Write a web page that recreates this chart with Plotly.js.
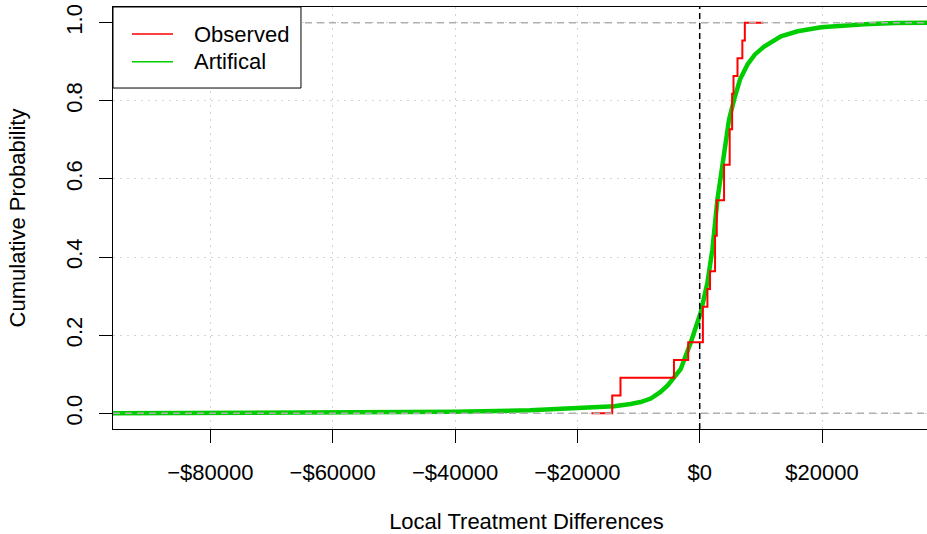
<!DOCTYPE html>
<html>
<head>
<meta charset="utf-8">
<script src="https://cdn.plot.ly/plotly-3.0.1.min.js"></script>
<style>
html, body { margin: 0; padding: 0; background: #fff; overflow: hidden; width: 927px; height: 534px; }
#chart { width: 940px; height: 534px; }
</style>
</head>
<body>
<div id="chart"></div>
<script>
// ---- data ----
const xTickVals = [-80000, -60000, -40000, -20000, 0, 20000];
const xTickText = ['\u2212$80000', '\u2212$60000', '\u2212$40000', '\u2212$20000', '$0', '$20000'];
const yTickVals = [0, 0.2, 0.4, 0.6, 0.8, 1.0];
const yTickText = ['0.0', '0.2', '0.4', '0.6', '0.8', '1.0'];

// observed local treatment differences (22 observations)
const observed = [-14300, -12950, -4210, -1880, 520, 520, 1260, 1690, 2510, 2510,
                  2790, 2790, 3980, 3980, 4900, 4900, 5300, 5300, 5525, 6180, 6970, 7380];
// extent over which the observed ECDF is drawn
const observedFrom = -17700;
const observedTo = 10400;

// artificial (simulated) cumulative distribution
const artX = [-96000, -60000, -40000, -27700, -19500, -14000, -11300, -9670, -8000, -6400,
              -5200, -4262, -3115, -1475, 164, 1260, 2080, 2900, 3990, 4800,
              5620, 6600, 7820, 9000, 10540, 13280, 16020, 19840, 26940, 32000, 39300];
const artY = [0.000, 0.001, 0.004, 0.008, 0.013, 0.018, 0.024, 0.029, 0.038, 0.055,
              0.072, 0.090, 0.113, 0.181, 0.258, 0.334, 0.420, 0.547, 0.675, 0.752,
              0.803, 0.855, 0.893, 0.918, 0.939, 0.965, 0.978, 0.988, 0.996, 0.999, 1.000];

const seriesNames = ['Observed', 'Artifical'];
const seriesColors = ['#FF0000', '#00CD00'];

// ---- empirical CDF of the observed values ----
const sorted = observed.slice().sort((a, b) => a - b);
const knots = [...new Set(sorted)];
const n = sorted.length;
const obsX = [observedFrom];
const obsY = [0];
knots.forEach(k => {
  obsX.push(k);
  obsY.push(sorted.filter(v => v <= k).length / n);
});
obsX.push(observedTo);
obsY.push(1);

const FONT = 'Liberation Sans, Arial, Helvetica, sans-serif';
const FS = 22;

const traces = [
  { x: artX, y: artY, type: 'scatter', mode: 'lines', name: seriesNames[1],
    line: { color: seriesColors[1], width: 4.5 } },
  { x: obsX, y: obsY, type: 'scatter', mode: 'lines', name: seriesNames[0],
    line: { color: seriesColors[0], width: 2, shape: 'hv' } }
];

// legend box geometry in paper units
const legX1 = 0.2273, legY0 = 0.808;
const rowY = [0.936, 0.870];

const shapes = [
  { type: 'line', xref: 'paper', x0: 0, x1: 1, yref: 'y', y0: 0, y1: 0,
    line: { color: '#AFAFAF', width: 1.5, dash: '7px,5px' }, layer: 'above' },
  { type: 'line', xref: 'paper', x0: 0, x1: 1, yref: 'y', y0: 1, y1: 1,
    line: { color: '#AFAFAF', width: 1.5, dash: '7px,5px' }, layer: 'above' },
  { type: 'line', xref: 'x', x0: 0, x1: 0, yref: 'paper', y0: 0, y1: 1,
    line: { color: '#000000', width: 1.5, dash: '6px,4px' }, layer: 'above' },
  { type: 'rect', xref: 'paper', yref: 'paper', x0: 0, x1: legX1, y0: legY0, y1: 1,
    fillcolor: '#FFFFFF', line: { color: '#000000', width: 1 }, layer: 'above' }
];
seriesNames.forEach((nm, i) => {
  shapes.push({ type: 'line', xref: 'paper', yref: 'paper', x0: 0.023, x1: 0.0726,
    y0: rowY[i], y1: rowY[i], line: { color: seriesColors[i], width: 1.5 }, layer: 'above' });
});
const annotations = seriesNames.map((nm, i) => ({
  xref: 'paper', yref: 'paper', x: 0.0955, y: rowY[i], xanchor: 'left', yanchor: 'middle',
  text: nm, showarrow: false, font: { family: FONT, size: FS, color: '#000' }
}));

const layout = {
  width: 940, height: 534,
  margin: { l: 113, r: 0, t: 7, b: 105, pad: 0 },
  paper_bgcolor: '#FFFFFF', plot_bgcolor: '#FFFFFF',
  showlegend: false,
  font: { family: FONT, size: FS, color: '#000' },
  xaxis: {
    range: [-95913, 39284], tickvals: xTickVals, ticktext: xTickText,
    ticks: 'outside', ticklen: 13, tickwidth: 1, tickcolor: '#000',
    showline: true, linecolor: '#000', linewidth: 1, mirror: true,
    showgrid: true, gridcolor: '#D3D3D3', gridwidth: 1, griddash: '2px,5px',
    zeroline: false, ticklabelstandoff: 11,
    tickfont: { family: FONT, size: FS, color: '#000' },
    title: { text: 'Local Treatment Differences', font: { family: FONT, size: FS, color: '#000' }, standoff: 37 }
  },
  yaxis: {
    range: [-0.04, 1.04], tickvals: yTickVals, ticktext: yTickText, tickangle: -90,
    ticks: 'outside', ticklen: 13, tickwidth: 1, tickcolor: '#000',
    showline: true, linecolor: '#000', linewidth: 1, mirror: true,
    showgrid: true, gridcolor: '#D3D3D3', gridwidth: 1, griddash: '2px,5px',
    zeroline: false, ticklabelstandoff: 8,
    tickfont: { family: FONT, size: FS, color: '#000' },
    title: { text: 'Cumulative Probability', font: { family: FONT, size: FS, color: '#000' }, standoff: 30 }
  },
  shapes: shapes,
  annotations: annotations
};

Plotly.newPlot('chart', traces, layout, { displayModeBar: false, staticPlot: true });
</script>
</body>
</html>
